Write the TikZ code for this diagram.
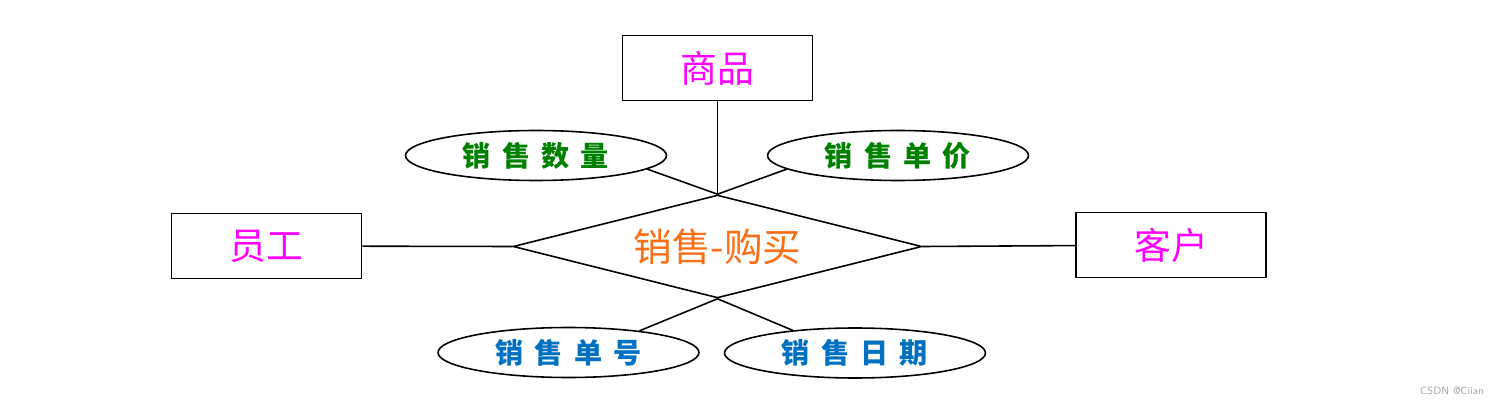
\documentclass[tikz,border=0pt]{standalone}
\usepackage{fontspec}
\usetikzlibrary{shapes.geometric}
\newfontfamily\cjk{Noto Sans CJK SC}
\definecolor{entitycol}{RGB}{255,0,255}
\definecolor{relcol}{RGB}{250,110,20}
\definecolor{attrgreen}{RGB}{0,128,0}
\definecolor{attrblue}{RGB}{0,112,192}
\newcommand{\gap}{\hspace{0.4em}}

\begin{document}
\begin{tikzpicture}
[
    x=0.02cm, y=-0.02cm,
    every path/.style={line width=0.9pt},
    entity/.style={draw, rectangle, minimum width=3.8cm, minimum height=1.3cm,
        text=entitycol, font=\cjk\fontsize{21}{21}\selectfont},
    relation/.style={draw, diamond, aspect=3.97, inner sep=0pt, minimum width=8.18cm, minimum height=2.06cm,
        text=relcol, font=\cjk\fontsize{22}{22}\selectfont},
    attr/.style={draw, ellipse, minimum width=5.22cm, minimum height=1cm, inner sep=0pt,
        font=\cjk\bfseries\fontsize{16}{16}\selectfont},
]
\useasboundingbox (0,0) rectangle (1500,405);
% entities
\node [entity] (goods) at (717.5,68) {商品};
\node [entity] (staff) at (266.5,246) {员工};
\node [entity] (client) at (1171,245) {客户};
% relation
\node [relation] (sale) at (717.5,246.5) {销售-购买};
% attributes
\node [attr, text=attrgreen] (amount) at (536,155.5) {销\gap 售\gap 数\gap 量};
\node [attr, text=attrgreen] (price) at (898,155.5) {销\gap 售\gap 单\gap 价};
\node [attr, text=attrblue] (number) at (568.5,352.5) {销\gap 售\gap 单\gap 号};
\node [attr, text=attrblue] (date) at (855,353) {销\gap 售\gap 日\gap 期};
% connectors
\draw (goods) -- (sale.north);
\draw (staff) -- (sale.west);
\draw (sale.east) -- (client);
\draw (amount.-7.6) -- (sale.north);
\draw (price.187) -- (sale.north);
\draw (number.17) -- (sale.south);
\draw (date.160) -- (sale.south);
\node [text=gray!70, font=\sffamily\fontsize{6}{6}\selectfont] (mark) at (1452,391) {CSDN @Ciian};
\end{tikzpicture}
\end{document}
